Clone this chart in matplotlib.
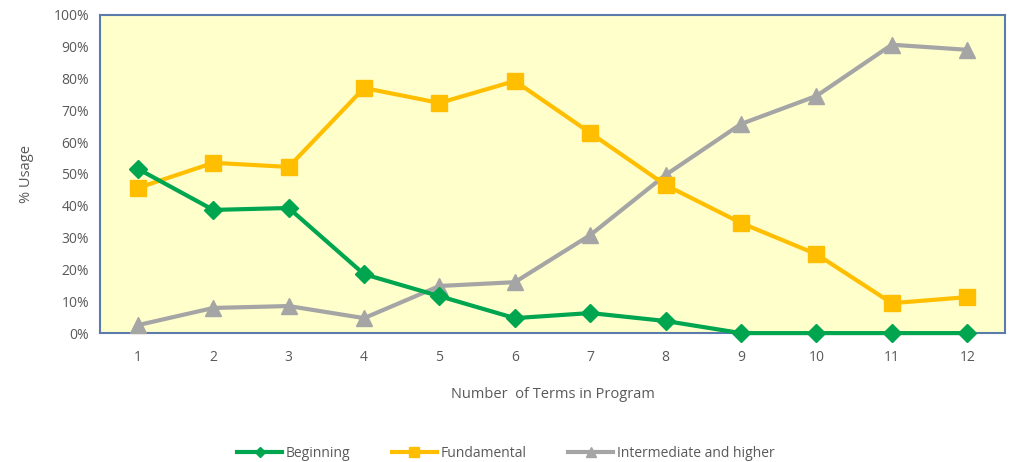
import matplotlib
matplotlib.use("Agg")
import matplotlib.pyplot as plt
from matplotlib.ticker import PercentFormatter

terms = [1, 2, 3, 4, 5, 6, 7, 8, 9, 10, 11, 12]
beginning = [51.6, 38.7, 39.3, 18.5, 11.6, 4.7, 6.3, 3.8, 0, 0, 0, 0]
fundamental = [45.6, 53.5, 52.2, 77.0, 72.3, 79.2, 62.9, 46.5, 34.6, 24.8, 9.4, 11.3]
intermediate = [2.5, 7.9, 8.5, 4.7, 14.8, 16.0, 30.8, 49.7, 65.7, 74.5, 90.6, 89.0]

plt.rcParams['font.family'] = ['Open Sans', 'DejaVu Sans']
txt = '#595959'

fig = plt.figure(figsize=(10.12, 4.62), dpi=100)
ax = fig.add_axes([0.099, 0.279, 0.894, 0.689])
ax.set_facecolor('#FFFFCC')

ax.plot(terms, beginning, color='#00A550', lw=3, marker='D', ms=9, label='Beginning', zorder=3, clip_on=False)
ax.plot(terms, fundamental, color='#FFBF00', lw=3, marker='s', ms=12, label='Fundamental', zorder=2, clip_on=False)
ax.plot(terms, intermediate, color='#A5A5A5', lw=3, marker='^', ms=12, label='Intermediate and higher', zorder=1, clip_on=False)

ax.set_xlim(0.5, 12.5)
ax.set_ylim(0, 100)
ax.set_xticks(terms)
ax.set_yticks(range(0, 101, 10))
ax.yaxis.set_major_formatter(PercentFormatter(decimals=0))
ax.tick_params(length=0, colors=txt, labelsize=10, pad=8)
ax.tick_params(axis='x', pad=12)
for s in ax.spines.values():
    s.set_color('#5B7BAA')
    s.set_linewidth(1.5)
    s.set_zorder(0.5)

ax.set_xlabel('Number  of Terms in Program', color=txt, fontsize=10.5, labelpad=16)
ax.set_ylabel('% Usage', color=txt, fontsize=10.5, labelpad=14)

fig.legend(loc='lower center', bbox_to_anchor=(0.5, -0.025), ncol=3, frameon=False,
           fontsize=10, labelcolor=txt, markerscale=0.55, handlelength=3.2,
           handletextpad=0.3, columnspacing=3)

fig.savefig('out.png')
